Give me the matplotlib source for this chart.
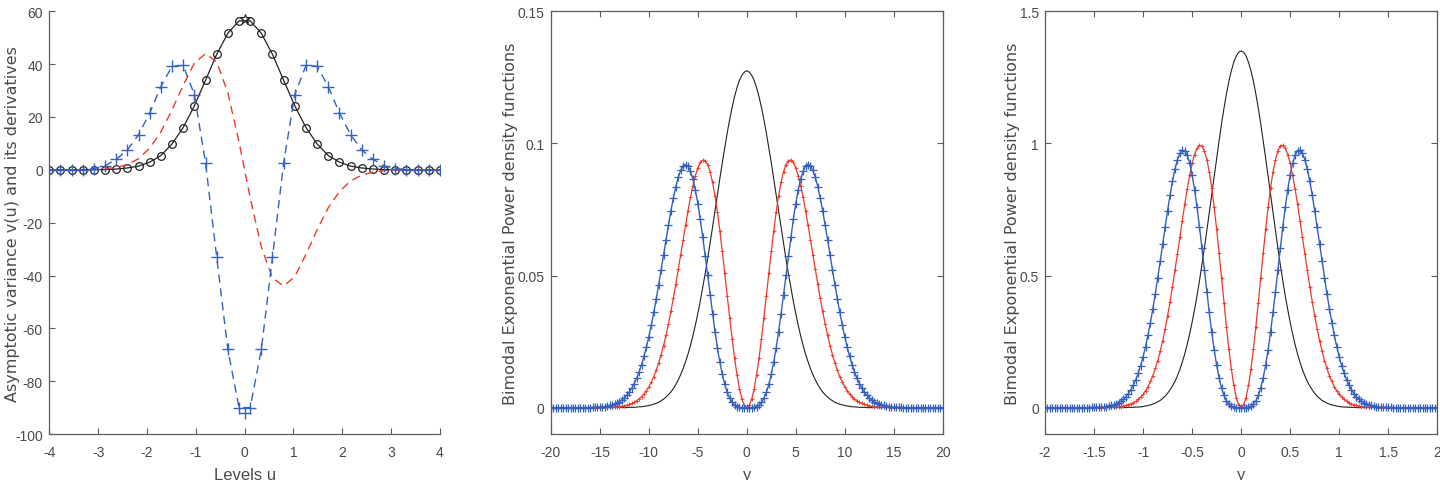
import matplotlib

matplotlib.use("Agg")
import matplotlib.pyplot as plt
import numpy as np


# ---- painel 1: variancia assintotica v(u) e derivadas (grade de 36 niveis)
u_levels = np.linspace(-4, 4, 36)

v_u = [0, 0, 0, 0, 0.05, 0.1, 0.3, 0.7, 1.4, 2.9, 5.4, 9.8, 16.0, 24.2, 33.9, 43.7, 51.7, 56.4,
       56.4, 51.7, 43.7, 33.9, 24.2, 16.0, 9.8, 5.4, 2.9, 1.4, 0.7, 0.3, 0.1, 0.05, 0, 0, 0, 0]

dv_u = [0, 0, 0, 0.05, 0.1, 0.35, 0.9, 2.0, 4.2, 8.2, 14.3, 22.7, 32.0, 40.4, 44.0, 40.9, 29.2, 10.6,
        -10.6, -29.2, -40.9, -44.0, -40.4, -32.0, -22.7, -14.3, -8.2, -4.2, -2.0, -0.9, -0.35, -0.1,
        -0.05, 0, 0, 0]

d2v_u = [0, 0, 0, 0.1, 0.5, 1.5, 4.0, 7.5, 13.3, 21.5, 31.5, 39.2, 39.5, 28.5, 2.7, -33.0, -68.0,
         -90.0, -90.0, -68.0, -33.0, 2.7, 28.5, 39.5, 39.2, 31.5, 21.5, 13.3, 7.5, 4.0, 1.5, 0.5,
         0.1, 0, 0, 0]

# valores no nivel u = 0
u_zero = [0]
v_zero = [57]
d2v_zero = [-92]

# ---- painel 2: densidades, y de -20 a 20 (passo 0.25)
y_wide = np.arange(-20, 20.001, 0.25)

dens_wide_0 = [
    0, 0, 0, 0, 0, 0, 0, 0, 0, 0, 0, 0, 0, 0, 0, 0,
    0, 0, 0, 0, 0, 0, 0, 0, 0, 0, 0, 0, 0, 0, 0, 0,
    0.0001, 0.0001, 0.0001, 0.0002, 0.0003, 0.0003, 0.0005, 0.0006,
    0.0008, 0.0010, 0.0013, 0.0016, 0.0020, 0.0026, 0.0032, 0.0040,
    0.0049, 0.0059, 0.0072, 0.0087, 0.0105, 0.0125, 0.0148, 0.0174,
    0.0203, 0.0236, 0.0272, 0.0312, 0.0356, 0.0403, 0.0454, 0.0507,
    0.0563, 0.0622, 0.0682, 0.0744, 0.0805, 0.0867, 0.0927, 0.0984,
    0.1039, 0.1090, 0.1136, 0.1177, 0.1211, 0.1239, 0.1258, 0.1270,
    0.1275,
    0.1270, 0.1258, 0.1239, 0.1211, 0.1177, 0.1136, 0.1090, 0.1039,
    0.0984, 0.0927, 0.0867, 0.0805, 0.0744, 0.0682, 0.0622, 0.0563,
    0.0507, 0.0454, 0.0403, 0.0356, 0.0312, 0.0272, 0.0236, 0.0203,
    0.0174, 0.0148, 0.0125, 0.0105, 0.0087, 0.0072, 0.0059, 0.0049,
    0.0040, 0.0032, 0.0026, 0.0020, 0.0016, 0.0013, 0.0010, 0.0008,
    0.0006, 0.0005, 0.0003, 0.0003, 0.0002, 0.0001, 0.0001, 0.0001,
    0, 0, 0, 0, 0, 0, 0, 0, 0, 0, 0, 0, 0, 0, 0, 0,
    0, 0, 0, 0, 0, 0, 0, 0, 0, 0, 0, 0, 0, 0, 0, 0,
]

dens_wide_1 = [
    0, 0, 0, 0, 0, 0, 0, 0, 0, 0, 0, 0, 0, 0, 0, 0, 0, 0, 0, 0, 0, 0,
    0.0001, 0.0001, 0.0001, 0.0002, 0.0002, 0.0003, 0.0004, 0.0005, 0.0007, 0.0009,
    0.0012, 0.0016, 0.0020, 0.0026, 0.0033, 0.0041, 0.0052, 0.0064, 0.0079, 0.0097,
    0.0117, 0.0141, 0.0169, 0.0200, 0.0235, 0.0274, 0.0317, 0.0364, 0.0414, 0.0467,
    0.0523, 0.0579, 0.0636, 0.0692, 0.0746, 0.0796, 0.0840, 0.0878, 0.0908, 0.0928,
    0.0937, 0.0935, 0.0920, 0.0893, 0.0853, 0.0802, 0.0740, 0.0669, 0.0591, 0.0509,
    0.0424, 0.0341, 0.0261, 0.0188, 0.0124, 0.0071, 0.0032, 0.0008,
    0,
    0.0008, 0.0032, 0.0071, 0.0124, 0.0188, 0.0261, 0.0341, 0.0424,
    0.0509, 0.0591, 0.0669, 0.0740, 0.0802, 0.0853, 0.0893, 0.0920, 0.0935, 0.0937,
    0.0928, 0.0908, 0.0878, 0.0840, 0.0796, 0.0746, 0.0692, 0.0636, 0.0579, 0.0523,
    0.0467, 0.0414, 0.0364, 0.0317, 0.0274, 0.0235, 0.0200, 0.0169, 0.0141, 0.0117,
    0.0097, 0.0079, 0.0064, 0.0052, 0.0041, 0.0033, 0.0026, 0.0020, 0.0016, 0.0012,
    0.0009, 0.0007, 0.0005, 0.0004, 0.0003, 0.0002, 0.0002, 0.0001, 0.0001, 0.0001,
    0, 0, 0, 0, 0, 0, 0, 0, 0, 0, 0, 0, 0, 0, 0, 0, 0, 0, 0, 0, 0, 0,
]

dens_wide_2 = [
    0, 0, 0, 0, 0, 0, 0, 0, 0, 0, 0, 0, 0, 0, 0, 0, 0,
    0.0001, 0.0001, 0.0002, 0.0002, 0.0003, 0.0004, 0.0006, 0.0008, 0.0010, 0.0013,
    0.0018, 0.0023, 0.0029, 0.0037, 0.0047, 0.0059, 0.0073, 0.0091, 0.0111, 0.0135,
    0.0162, 0.0194, 0.0229, 0.0269, 0.0313, 0.0360, 0.0411, 0.0465, 0.0521, 0.0578,
    0.0636, 0.0691, 0.0745, 0.0793, 0.0836, 0.0872, 0.0898, 0.0915, 0.0920, 0.0914,
    0.0895, 0.0865, 0.0824, 0.0772, 0.0712, 0.0646, 0.0574, 0.0501, 0.0427, 0.0355,
    0.0288, 0.0226, 0.0172, 0.0126, 0.0088, 0.0058, 0.0036, 0.0020, 0.0010, 0.0004,
    0.0001,
    0, 0, 0, 0, 0,
    0.0001,
    0.0004, 0.0010, 0.0020, 0.0036, 0.0058, 0.0088, 0.0126, 0.0172, 0.0226, 0.0288,
    0.0355, 0.0427, 0.0501, 0.0574, 0.0646, 0.0712, 0.0772, 0.0824, 0.0865, 0.0895,
    0.0914, 0.0920, 0.0915, 0.0898, 0.0872, 0.0836, 0.0793, 0.0745, 0.0691, 0.0636,
    0.0578, 0.0521, 0.0465, 0.0411, 0.0360, 0.0313, 0.0269, 0.0229, 0.0194, 0.0162,
    0.0135, 0.0111, 0.0091, 0.0073, 0.0059, 0.0047, 0.0037, 0.0029, 0.0023, 0.0018,
    0.0013, 0.0010, 0.0008, 0.0006, 0.0004, 0.0003, 0.0002, 0.0002, 0.0001, 0.0001,
    0, 0, 0, 0, 0, 0, 0, 0, 0, 0, 0, 0, 0, 0, 0, 0, 0,
]

# ---- painel 3: densidades, y de -2 a 2 (passo 0.025)
y_narrow = np.arange(-2, 2.0001, 0.025)

dens_narrow_0 = [
    0, 0, 0, 0, 0, 0, 0, 0, 0, 0, 0, 0, 0, 0, 0, 0, 0,
    0, 0, 0, 0, 0, 0, 0, 0, 0, 0, 0, 0, 0, 0, 0, 0, 0,
    0.001, 0.001, 0.001, 0.002, 0.002, 0.003, 0.004, 0.006, 0.008, 0.010,
    0.013, 0.017, 0.022, 0.027, 0.035, 0.043, 0.054, 0.067, 0.082, 0.099,
    0.120, 0.144, 0.172, 0.203, 0.239, 0.279, 0.323, 0.371, 0.423, 0.480,
    0.540, 0.603, 0.669, 0.737, 0.806, 0.876, 0.944, 1.010, 1.074, 1.133,
    1.187, 1.235, 1.275, 1.307, 1.331, 1.345,
    1.350,
    1.345, 1.331, 1.307, 1.275, 1.235, 1.187,
    1.133, 1.074, 1.010, 0.944, 0.876, 0.806, 0.737, 0.669, 0.603, 0.540,
    0.480, 0.423, 0.371, 0.323, 0.279, 0.239, 0.203, 0.172, 0.144, 0.120,
    0.099, 0.082, 0.067, 0.054, 0.043, 0.035, 0.027, 0.022, 0.017, 0.013,
    0.010, 0.008, 0.006, 0.004, 0.003, 0.002, 0.002, 0.001, 0.001, 0.001,
    0, 0, 0, 0, 0, 0, 0, 0, 0, 0, 0, 0, 0, 0, 0, 0, 0,
    0, 0, 0, 0, 0, 0, 0, 0, 0, 0, 0, 0, 0, 0, 0, 0, 0,
]

dens_narrow_1 = [
    0, 0, 0, 0, 0, 0, 0, 0, 0, 0, 0, 0, 0, 0, 0, 0, 0, 0, 0, 0, 0, 0, 0, 0, 0,
    0.001, 0.001, 0.001, 0.002, 0.002, 0.003, 0.004, 0.006, 0.008, 0.011,
    0.014, 0.018, 0.024, 0.031, 0.040, 0.050, 0.064, 0.079, 0.099, 0.121,
    0.148, 0.178, 0.214, 0.253, 0.298, 0.347, 0.401, 0.458, 0.519, 0.581,
    0.645, 0.708, 0.770, 0.827, 0.879, 0.924, 0.958, 0.982, 0.993, 0.990,
    0.972, 0.939, 0.892, 0.831, 0.758, 0.676, 0.586, 0.492, 0.397, 0.306,
    0.221, 0.146, 0.084, 0.038, 0.010,
    0,
    0.010, 0.038, 0.084, 0.146, 0.221,
    0.306, 0.397, 0.492, 0.586, 0.676, 0.758, 0.831, 0.892, 0.939, 0.972,
    0.990, 0.993, 0.982, 0.958, 0.924, 0.879, 0.827, 0.770, 0.708, 0.645,
    0.581, 0.519, 0.458, 0.401, 0.347, 0.298, 0.253, 0.214, 0.178, 0.148,
    0.121, 0.099, 0.079, 0.064, 0.050, 0.040, 0.031, 0.024, 0.018, 0.014,
    0.011, 0.008, 0.006, 0.004, 0.003, 0.002, 0.002, 0.001, 0.001, 0.001,
    0, 0, 0, 0, 0, 0, 0, 0, 0, 0, 0, 0, 0, 0, 0, 0, 0, 0, 0, 0, 0, 0, 0, 0, 0,
]

dens_narrow_2 = [
    0, 0, 0, 0, 0, 0, 0, 0, 0, 0, 0, 0, 0, 0, 0, 0, 0, 0, 0,
    0.001, 0.001, 0.001, 0.002, 0.002, 0.003, 0.004, 0.006, 0.008, 0.011,
    0.014, 0.019, 0.025, 0.032, 0.042, 0.053, 0.067, 0.085, 0.105, 0.130,
    0.159, 0.192, 0.231, 0.274, 0.322, 0.375, 0.431, 0.492, 0.555, 0.619,
    0.683, 0.746, 0.804, 0.857, 0.902, 0.938, 0.962, 0.974, 0.972, 0.955,
    0.925, 0.881, 0.825, 0.759, 0.685, 0.604, 0.522, 0.439, 0.360, 0.286,
    0.219, 0.161, 0.113, 0.075, 0.046, 0.026, 0.013, 0.006, 0.002,
    0, 0, 0, 0, 0,
    0.002, 0.006, 0.013, 0.026, 0.046, 0.075, 0.113, 0.161, 0.219,
    0.286, 0.360, 0.439, 0.522, 0.604, 0.685, 0.759, 0.825, 0.881, 0.925,
    0.955, 0.972, 0.974, 0.962, 0.938, 0.902, 0.857, 0.804, 0.746, 0.683,
    0.619, 0.555, 0.492, 0.431, 0.375, 0.322, 0.274, 0.231, 0.192, 0.159,
    0.130, 0.105, 0.085, 0.067, 0.053, 0.042, 0.032, 0.025, 0.019, 0.014,
    0.011, 0.008, 0.006, 0.004, 0.003, 0.002, 0.002, 0.001, 0.001, 0.001,
    0, 0, 0, 0, 0, 0, 0, 0, 0, 0, 0, 0, 0, 0, 0, 0, 0, 0, 0,
]

BLUE = "#3560bf"
RED = "#ee3a2c"
BLACK = "#222222"
AXIS_GRAY = "#5c5c5c"
TEXT_GRAY = "#4a4a4a"

NARROW = ["Liberation Sans Narrow", "Liberation Sans", "DejaVu Sans"]
WIDE = ["DejaVu Sans"]

plt.rcParams["font.family"] = NARROW
plt.rcParams["axes.unicode_minus"] = False


def style_axes(ax, box, ylabel_x):
    for side in ["left", "bottom", "top", "right"]:
        ax.spines[side].set_color(AXIS_GRAY)
        ax.spines[side].set_linewidth(0.9)
    if not box:
        ax.spines["top"].set_visible(False)
        ax.spines["right"].set_visible(False)
    ax.tick_params(
        direction="in", length=4, width=0.8, color=AXIS_GRAY,
        labelcolor=TEXT_GRAY, labelsize=10, top=box, right=box,
    )
    ax.tick_params(axis="x", pad=8)
    ax.tick_params(axis="y", pad=4.5)
    # rotulos em posicao fixa, como no original
    ax.yaxis.set_label_coords(ylabel_x, 0.5)
    ax.xaxis.set_label_coords(0.5, -0.079)


def density_panel(ax, x, d0, d1, d2, xticks, xlim, ylim, yticks, ylabel_x):
    ax.plot(x, d0, color=BLACK, lw=0.8)
    ax.plot(x, d1, color=RED, lw=0.9, marker="+", ms=2.5, mew=0.6)
    ax.plot(x, d2, color=BLUE, lw=1.0, marker="+", ms=6, mew=0.9)
    ax.set_xlim(*xlim)
    ax.set_ylim(*ylim)
    ax.set_xticks(xticks)
    ax.set_yticks(yticks)
    ax.set_ylabel("Bimodal Exponential Power density functions", family=WIDE,
                  fontsize=11.5, color=TEXT_GRAY)
    ax.set_xlabel("y", fontsize=12, color=TEXT_GRAY)
    style_axes(ax, box=True, ylabel_x=ylabel_x)


fig = plt.figure(figsize=(14.4, 4.81), dpi=100)

ax1 = fig.add_axes([0.0342, 0.0956, 0.2713, 0.8788])
ax1.plot(u_levels, v_u, color=BLACK, lw=0.9, marker="o", ms=5.5, mfc="none", mew=0.9)
ax1.plot(u_levels, dv_u, color=RED, lw=1.0, ls=(0, (6, 4)))
ax1.plot(u_levels, d2v_u, color=BLUE, lw=1.0, ls=(0, (6, 4)), marker="+", ms=9, mew=1.0)
ax1.plot(u_zero, v_zero, ls="none", color=BLACK, marker="*", ms=7, mew=0.8, mfc="none")
ax1.plot(u_zero, d2v_zero, ls="none", color=BLUE, marker="+", ms=9, mew=1.0)
ax1.set_xlim(-4, 4)
ax1.set_ylim(-100, 60)
ax1.set_xticks(np.arange(-4, 5, 1))
ax1.set_yticks(np.arange(-100, 61, 20))
ax1.set_ylabel("Asymptotic variance v(u) and its derivatives", family=WIDE,
               fontsize=11.5, color=TEXT_GRAY)
ax1.set_xlabel("Levels u", fontsize=12, color=TEXT_GRAY)
style_axes(ax1, box=False, ylabel_x=-0.074)

ax2 = fig.add_axes([0.3826, 0.0956, 0.2720, 0.8788])
density_panel(ax2, y_wide, dens_wide_0, dens_wide_1, dens_wide_2,
              np.arange(-20, 21, 5), (-20, 20), (-0.01, 0.15), [0, 0.05, 0.1, 0.15], -0.084)
ax2.set_yticklabels(["0", "0.05", "0.1", "0.15"])
ax2.set_xticklabels([str(v) for v in range(-20, 21, 5)])

ax3 = fig.add_axes([0.7257, 0.0956, 0.2724, 0.8788])
density_panel(ax3, y_narrow, dens_narrow_0, dens_narrow_1, dens_narrow_2,
              np.arange(-2, 2.01, 0.5), (-2, 2), (-0.1, 1.5), [0, 0.5, 1, 1.5], -0.064)
ax3.set_xticklabels(["-2", "-1.5", "-1", "-0.5", "0", "0.5", "1", "1.5", "2"])
ax3.set_yticklabels(["0", "0.5", "1", "1.5"])

ax1.set_xticklabels([str(v) for v in range(-4, 5)])

fig.savefig("out.png", dpi=100)
